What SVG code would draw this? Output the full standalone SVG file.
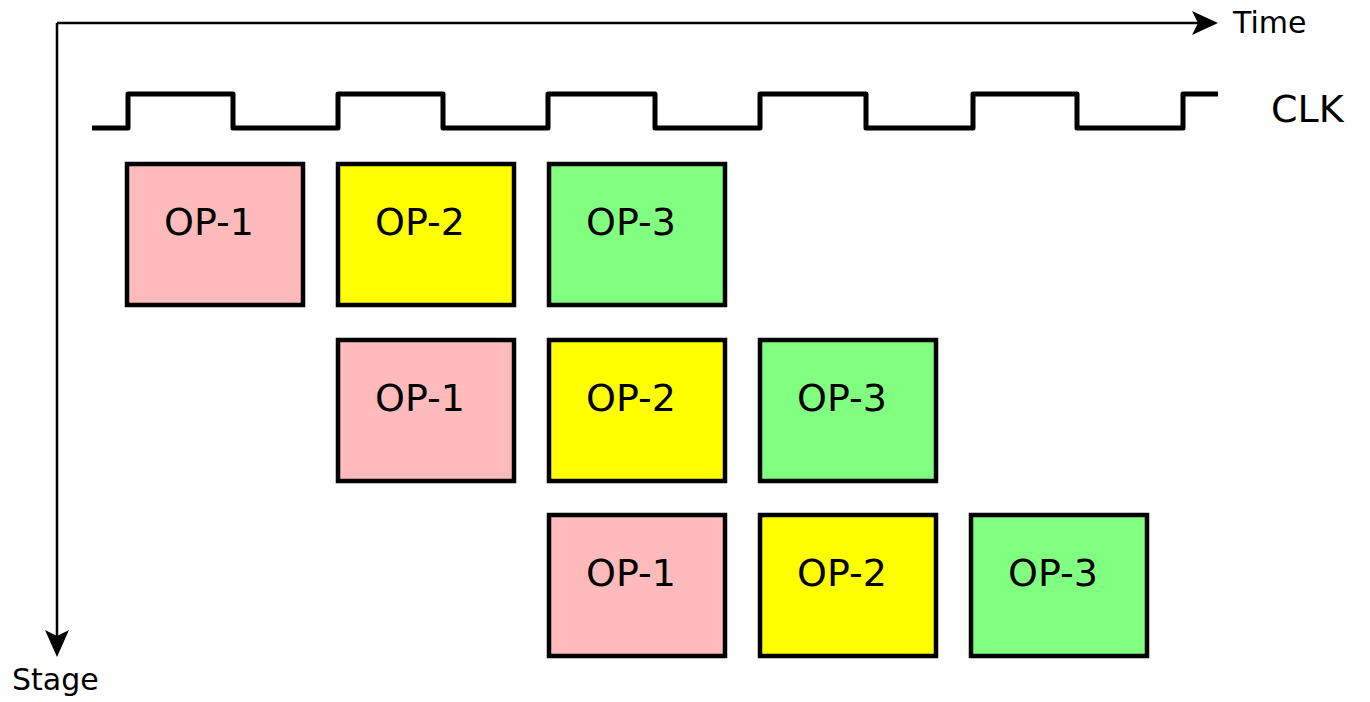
<svg xmlns="http://www.w3.org/2000/svg" width="1370" height="702" viewBox="0 0 1370 702">
  <style>
    .axis { fill: none; stroke: #000; stroke-width: 2.5; }
    .clk { fill: none; stroke: #000; stroke-width: 5; stroke-linejoin: round; }
    .box { stroke: #000; stroke-width: 4.5; }
    .op1 { fill: #ffbbbb; }
    .op2 { fill: #ffff00; }
    .op3 { fill: #80ff80; }
    .lbl { font-family: "DejaVu Sans", "Liberation Sans", sans-serif; fill: #000; }
    .op { font-size: 38px; text-anchor: middle; }
    .ax { font-size: 30px; }
  </style>
  <defs>
    <marker id="arrow" viewBox="0 0 10 10" refX="9" refY="5" markerWidth="10" markerHeight="10" markerUnits="userSpaceOnUse" orient="auto">
      <path d="M0,0 L10,5 L0,10 L2.5,5 Z" fill="#000"/>
    </marker>
  </defs>

  <!-- axes -->
  <g id="connectors">
    <path class="axis" d="M57,23 H1208" />
    <path d="M1192,11 L1218,23 L1192,35 L1198,23 Z" fill="#000"/>
    <path class="axis" d="M57,23 V646" />
    <path d="M45,630 L57,657 L69,630 L57,636 Z" fill="#000"/>
  </g>

  <text class="lbl ax" x="1233" y="33">Time</text>
  <text class="lbl ax" x="12" y="690">Stage</text>

  <!-- clock waveform -->
  <g id="clock">
    <path class="clk" d="M92,128 H128 V94 H233 V128 H338 V94 H443 V128 H548 V94 H655 V128 H760 V94 H866 V128 H973 V94 H1077 V128 H1183 V94 H1218" />
    <text class="lbl" x="1271" y="122" font-size="38">CLK</text>
  </g>

  <!-- stage 1 -->
  <g id="s1-op1"><rect class="box op1" x="127" y="164" width="176" height="141"/><text class="lbl op" x="209" y="235">OP-1</text></g>
  <g id="s1-op2"><rect class="box op2" x="338" y="164" width="176" height="141"/><text class="lbl op" x="420" y="235">OP-2</text></g>
  <g id="s1-op3"><rect class="box op3" x="549" y="164" width="176" height="141"/><text class="lbl op" x="631" y="235">OP-3</text></g>

  <!-- stage 2 -->
  <g id="s2-op1"><rect class="box op1" x="338" y="340" width="176" height="141"/><text class="lbl op" x="420" y="411">OP-1</text></g>
  <g id="s2-op2"><rect class="box op2" x="549" y="340" width="176" height="141"/><text class="lbl op" x="631" y="411">OP-2</text></g>
  <g id="s2-op3"><rect class="box op3" x="760" y="340" width="176" height="141"/><text class="lbl op" x="842" y="411">OP-3</text></g>

  <!-- stage 3 -->
  <g id="s3-op1"><rect class="box op1" x="549" y="515" width="176" height="141"/><text class="lbl op" x="631" y="586">OP-1</text></g>
  <g id="s3-op2"><rect class="box op2" x="760" y="515" width="176" height="141"/><text class="lbl op" x="842" y="586">OP-2</text></g>
  <g id="s3-op3"><rect class="box op3" x="971" y="515" width="176" height="141"/><text class="lbl op" x="1053" y="586">OP-3</text></g>
</svg>
